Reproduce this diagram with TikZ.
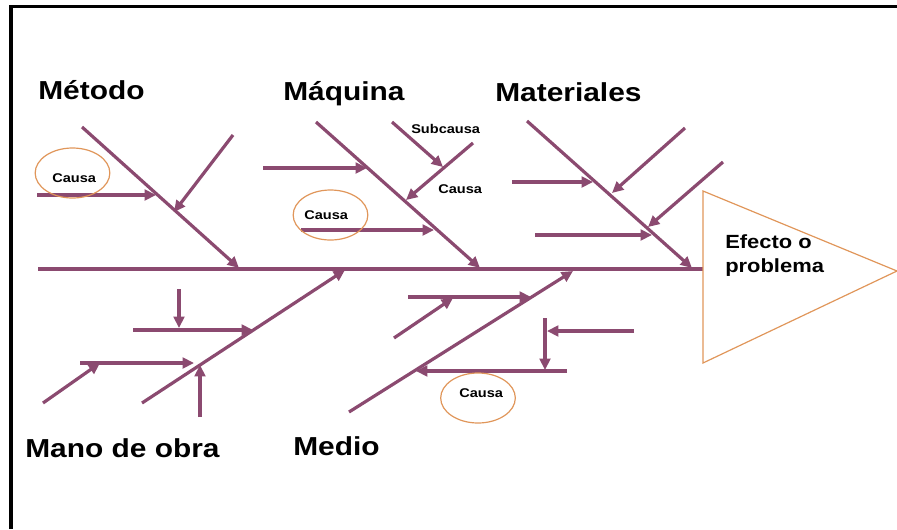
\documentclass[tikz,border=0pt]{standalone}
\usepackage{fontspec}
\setmainfont{Liberation Sans}[FakeStretch=1.15]
\usetikzlibrary{arrows.meta,shapes.geometric}
\definecolor{fish}{RGB}{139,74,112}
\definecolor{org}{RGB}{224,150,90}
\tikzset{
 bone/.style={draw=fish, line width=2.4pt, -{Triangle[length=8.5pt,width=8pt]}},
 plainbone/.style={draw=fish, line width=2.4pt},
 head/.style={anchor=base west, inner sep=0, font=\fontsize{19.5}{23}\selectfont\bfseries},
 small/.style={anchor=base west, inner sep=0, font=\fontsize{9.5}{11}\selectfont\bfseries},
 ring/.style={draw=org, line width=0.9pt, ellipse, minimum width=56pt, minimum height=37.5pt, inner sep=0},
}
\begin{document}
\begin{tikzpicture}[x=0.75pt,y=-0.75pt]
\useasboundingbox (0,0) rectangle (897,529);
% frame
\coordinate (fb) at (11,529); \coordinate (fc) at (11,6.5); \coordinate (fr) at (897,6.5);
\draw[line width=2.6pt] (fb) -- (fc) -- (fr);
% spine
\coordinate (s0) at (38,269); \coordinate (s1) at (703,269);
\draw[plainbone] (s0) -- (s1);
% effect triangle
\coordinate (t1) at (703,191); \coordinate (t2) at (897,271); \coordinate (t3) at (703,363);
\draw[org, line width=0.9pt] (t1) -- (t2) -- (t3) -- cycle;
\node[anchor=base west, inner sep=0, align=left, font=\fontsize{14.3}{18}\selectfont\bfseries] (eff) at (725,272) {Efecto o\\problema};
% headers
\node[head] (hmet) at (38,99) {Método};
\node[head] (hmaq) at (283,100) {Máquina};
\node[head] (hmat) at (495,101) {Materiales};
\node[head] (hmano) at (25,457) {Mano de obra};
\node[head] (hmed) at (293,455) {Medio};
% ---- Metodo
\coordinate (a0) at (82,127); \coordinate (a1) at (239,268);
\coordinate (a2) at (37,195); \coordinate (a3) at (156,195);
\coordinate (a4) at (233,135); \coordinate (a5) at (174,212);
\draw[bone] (a0) -- (a1);
\draw[bone] (a2) -- (a3);
\draw[bone] (a4) -- (a5);
\node[ring] (r1) at (72.5,173) {};
\node[small] (c1) at (52,182) {Causa};
% ---- Maquina
\coordinate (b0) at (316,122); \coordinate (b1) at (480,268);
\coordinate (b2) at (263,168); \coordinate (b3) at (367,168);
\coordinate (b4) at (473,143); \coordinate (b5) at (406,200);
\coordinate (b6) at (392,122); \coordinate (b7) at (443,167);
\coordinate (b8) at (301,230); \coordinate (b9) at (434,230);
\draw[bone] (b0) -- (b1);
\draw[bone] (b2) -- (b3);
\draw[bone] (b4) -- (b5);
\draw[bone] (b6) -- (b7);
\draw[bone] (b8) -- (b9);
\node[small] (sub) at (411,133) {Subcausa};
\node[small] (c2) at (438,193) {Causa};
\node[ring] (r2) at (330.5,215) {};
\node[small] (c3) at (304,219) {Causa};
% ---- Materiales
\coordinate (m0) at (527,121); \coordinate (m1) at (692,268);
\coordinate (m2) at (512,182); \coordinate (m3) at (593,182);
\coordinate (m4) at (685,128); \coordinate (m5) at (612,193);
\coordinate (m6) at (723,162); \coordinate (m7) at (648,227);
\coordinate (m8) at (535,235); \coordinate (m9) at (652,235);
\draw[bone] (m0) -- (m1);
\draw[bone] (m2) -- (m3);
\draw[bone] (m4) -- (m5);
\draw[bone] (m6) -- (m7);
\draw[bone] (m8) -- (m9);
% ---- Mano de obra
\coordinate (n0) at (142,403); \coordinate (n1) at (345,270);
\coordinate (n2) at (133,330); \coordinate (n3) at (253,330);
\coordinate (n4) at (179,289); \coordinate (n5) at (179,328);
\coordinate (n6) at (80,363); \coordinate (n7) at (194,363);
\coordinate (n8) at (43,403); \coordinate (n9) at (100,363);
\coordinate (n10) at (200,417); \coordinate (n11) at (200,365);
\draw[bone] (n0) -- (n1);
\draw[bone] (n2) -- (n3);
\draw[bone] (n4) -- (n5);
\draw[bone] (n6) -- (n7);
\draw[bone] (n8) -- (n9);
\draw[bone] (n10) -- (n11);
% ---- Medio
\coordinate (d0) at (349,412); \coordinate (d1) at (573,271);
\coordinate (d2) at (408,297); \coordinate (d3) at (531,297);
\coordinate (d4) at (394,338); \coordinate (d5) at (453,298);
\coordinate (d6) at (545,318); \coordinate (d7) at (545,370);
\coordinate (d8) at (634,331); \coordinate (d9) at (547,331);
\coordinate (d10) at (567,371); \coordinate (d11) at (416,371);
\draw[bone] (d0) -- (d1);
\draw[bone] (d2) -- (d3);
\draw[bone] (d4) -- (d5);
\draw[bone] (d6) -- (d7);
\draw[bone] (d8) -- (d9);
\draw[bone] (d10) -- (d11);
\node[ring] (r3) at (478,398) {};
\node[small] (c4) at (459,397) {Causa};
\end{tikzpicture}
\end{document}
